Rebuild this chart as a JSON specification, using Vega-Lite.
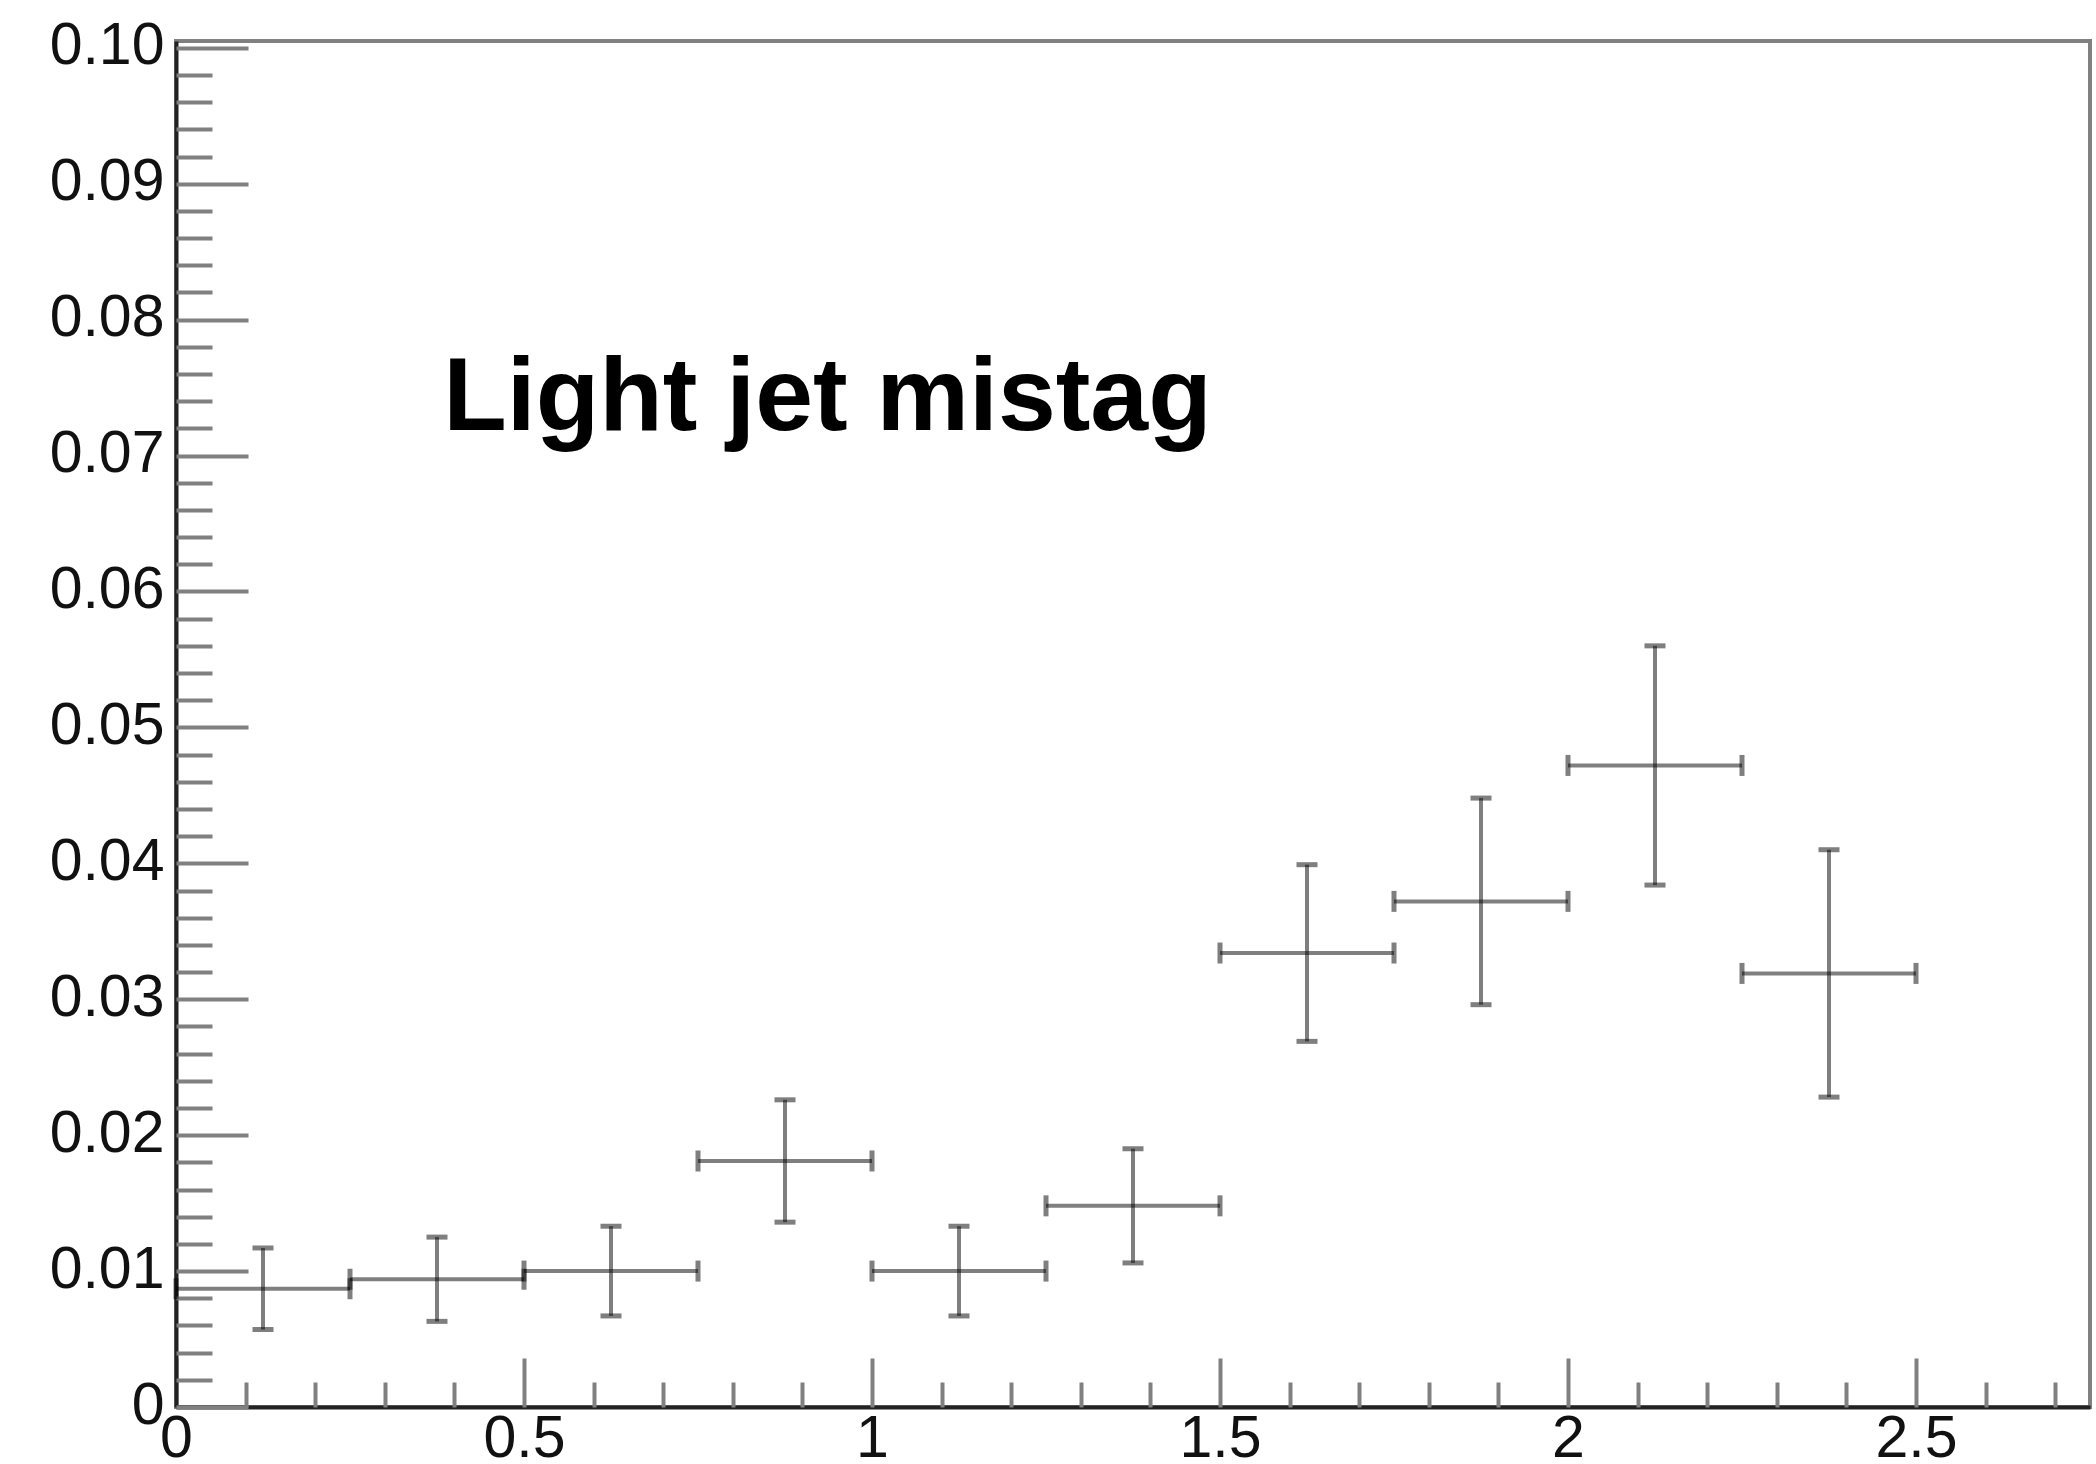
{
  "$schema": "https://vega.github.io/schema/vega-lite/v6.json",
  "width": 1914,
  "height": 1366,
  "autosize": {"type": "none"},
  "padding": {"left": 176, "top": 41, "right": 6, "bottom": 57},
  "background": "white",
  "config": {
    "view": {"stroke": "#808080", "strokeWidth": 4},
    "axis": {
      "title": null,
      "grid": false,
      "labelFont": "Liberation Sans",
      "labelFontSize": 59,
      "labelColor": "#111111",
      "domainColor": "#222222",
      "domainWidth": 4,
      "tickColor": "#808080",
      "tickWidth": 4
    }
  },
  "data": {
    "values": [
      {"eta_lo": 0.0, "eta_hi": 0.25, "eta": 0.125, "mistag": 0.0087, "err": 0.0030},
      {"eta_lo": 0.25, "eta_hi": 0.5, "eta": 0.375, "mistag": 0.0094, "err": 0.0031},
      {"eta_lo": 0.5, "eta_hi": 0.75, "eta": 0.625, "mistag": 0.0100, "err": 0.0033},
      {"eta_lo": 0.75, "eta_hi": 1.0, "eta": 0.875, "mistag": 0.0181, "err": 0.0045},
      {"eta_lo": 1.0, "eta_hi": 1.25, "eta": 1.125, "mistag": 0.0100, "err": 0.0033},
      {"eta_lo": 1.25, "eta_hi": 1.5, "eta": 1.375, "mistag": 0.0148, "err": 0.0042},
      {"eta_lo": 1.5, "eta_hi": 1.75, "eta": 1.625, "mistag": 0.0334, "err": 0.0065},
      {"eta_lo": 1.75, "eta_hi": 2.0, "eta": 1.875, "mistag": 0.0372, "err": 0.0076},
      {"eta_lo": 2.0, "eta_hi": 2.25, "eta": 2.125, "mistag": 0.0472, "err": 0.0088},
      {"eta_lo": 2.25, "eta_hi": 2.5, "eta": 2.375, "mistag": 0.0319, "err": 0.0091}
    ]
  },
  "resolve": {"axis": {"x": "independent", "y": "independent"}},
  "layer": [
    {
      "mark": {
        "type": "errorbar",
        "rule": {"color": "black", "opacity": 0.5, "strokeWidth": 4},
        "ticks": {"color": "black", "opacity": 0.5, "size": 21, "thickness": 5}
      },
      "encoding": {
        "x": {
          "field": "eta", "type": "quantitative", "title": null,
          "scale": {"domain": [0, 2.75], "nice": false, "zero": false},
          "axis": {
            "title": null,
            "orient": "bottom",
            "values": [0, 0.5, 1, 1.5, 2, 2.5],
            "ticks": false, "tickSize": 0,
            "labelPadding": 2,
            "labelFlush": false,
            "labelOverlap": false,
            "labelExpr": "format(datum.value, '~g')"
          }
        },
        "y": {
          "field": "mistag", "type": "quantitative", "title": null,
          "scale": {"domain": [0, 0.1005], "nice": false, "zero": false},
          "axis": {
            "title": null,
            "orient": "left",
            "values": [0, 0.01, 0.02, 0.03, 0.04, 0.05, 0.06, 0.07, 0.08, 0.09, 0.1],
            "ticks": false, "tickSize": 0,
            "labelPadding": 12,
            "labelOffset": -2,
            "labelFlush": false,
            "labelOverlap": false,
            "labelExpr": "datum.value == 0 ? '0' : format(datum.value, '.2f')"
          }
        },
        "yError": {"field": "err"}
      }
    },
    {
      "mark": {
        "type": "errorbar",
        "rule": {"color": "black", "opacity": 0.5, "strokeWidth": 4},
        "ticks": {"color": "black", "opacity": 0.5, "size": 21, "thickness": 5}
      },
      "encoding": {
        "x": {
          "field": "eta_lo", "type": "quantitative", "title": null,
          "scale": {"domain": [0, 2.75], "nice": false, "zero": false},
          "axis": {
            "title": null,
            "orient": "bottom",
            "values": [0, 0.5, 1, 1.5, 2, 2.5],
            "labels": false, "domain": false,
            "tickSize": -49
          }
        },
        "x2": {"field": "eta_hi"},
        "y": {
          "field": "mistag", "type": "quantitative", "title": null,
          "axis": {
            "title": null,
            "orient": "left",
            "values": [0, 0.01, 0.02, 0.03, 0.04, 0.05, 0.06, 0.07, 0.08, 0.09, 0.1],
            "labels": false, "domain": false,
            "tickSize": -72
          }
        }
      }
    },
    {
      "data": {"values": [{"label": "Light jet mistag", "eta": 0.384, "mistag": 0.0719}]},
      "mark": {
        "type": "text",
        "font": "Liberation Sans",
        "fontWeight": "bold",
        "fontSize": 104,
        "color": "black",
        "align": "left",
        "baseline": "alphabetic"
      },
      "encoding": {
        "x": {
          "field": "eta", "type": "quantitative", "title": null,
          "axis": {
            "title": null,
            "orient": "bottom",
            "values": [0.1, 0.2, 0.3, 0.4, 0.6, 0.7, 0.8, 0.9, 1.1, 1.2, 1.3, 1.4, 1.6, 1.7, 1.8, 1.9, 2.1, 2.2, 2.3, 2.4, 2.6, 2.7],
            "labels": false, "domain": false,
            "tickSize": -25
          }
        },
        "y": {
          "field": "mistag", "type": "quantitative", "title": null,
          "axis": {
            "title": null,
            "orient": "left",
            "values": [0.002, 0.004, 0.006, 0.008, 0.012, 0.014, 0.016, 0.018, 0.022, 0.024, 0.026, 0.028, 0.032, 0.034, 0.036, 0.038, 0.042, 0.044, 0.046, 0.048, 0.052, 0.054, 0.056, 0.058, 0.062, 0.064, 0.066, 0.068, 0.072, 0.074, 0.076, 0.078, 0.082, 0.084, 0.086, 0.088, 0.092, 0.094, 0.096, 0.098],
            "labels": false, "domain": false,
            "tickSize": -36
          }
        },
        "text": {"field": "label"}
      }
    }
  ]
}
